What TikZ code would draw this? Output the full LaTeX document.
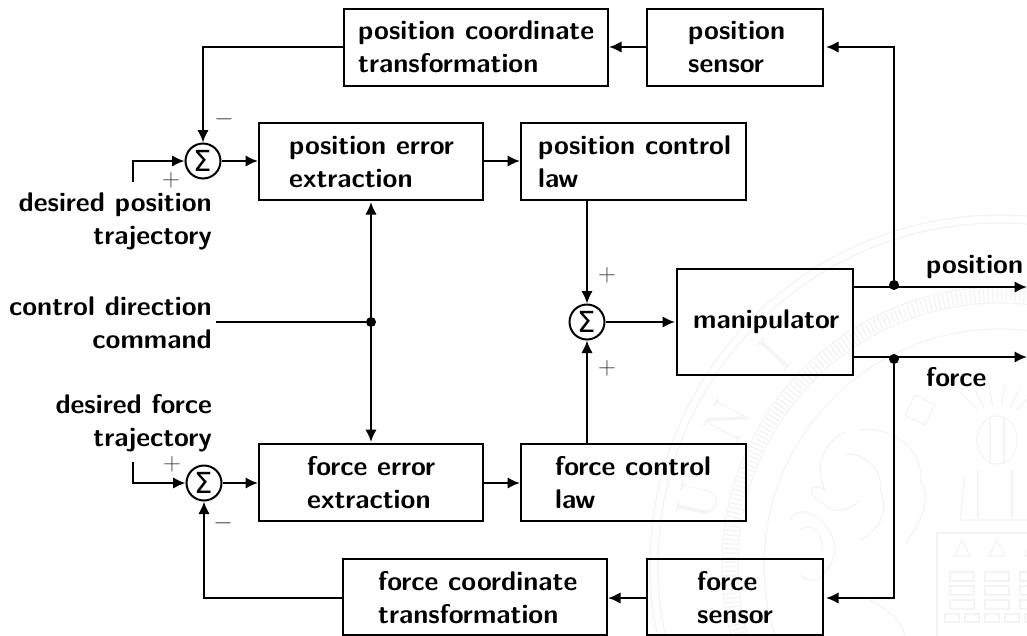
\documentclass[tikz,border=0pt]{standalone}
\usepackage{fontspec}
\usetikzlibrary{arrows.meta,calc}
\newfontfamily\sigmafont{DejaVu Sans}
\definecolor{wm}{gray}{0.955}
\tikzset{
  x=1pt,y=-1pt,
  blockbox/.style={draw,line width=2.2pt},
  wire/.style={line width=2.2pt},
  arr/.style={wire,-{Latex[length=12.5pt,width=11.5pt]}},
  sumnode/.style={circle,draw,line width=2pt,minimum size=35pt,inner sep=0pt,font=\fontsize{29}{32}\sigmafont},
  dot/.style={circle,fill=black,inner sep=0pt,minimum size=10pt},
  lab/.style={font=\fontsize{27}{33}\selectfont\sffamily\bfseries,align=left,inner sep=0pt,anchor=west},
  rlab/.style={font=\fontsize{27}{33}\selectfont\sffamily\bfseries,align=right,inner sep=0pt,anchor=east},
  sgn/.style={font=\fontsize{29}{32}\selectfont,inner sep=0pt,text=black!75},
  seal/.style={draw=wm,line width=1.2pt},
  sealletter/.style={font=\fontsize{56}{56}\selectfont\rmfamily,text=wm,inner sep=0pt}
}
\begin{document}
\begin{tikzpicture}
\useasboundingbox (0,0) rectangle (1027,635);
% faint seal
\begin{scope}
\clip (0,0) rectangle (1027,635);
\foreach \r in {350,342,278,262,236} \draw[seal] (1000,565) circle[radius=\r];
\draw[draw=wm,line width=13pt,dash pattern=on 1.5pt off 3pt] (1000,565) circle[radius=270];
\foreach \a/\l in {-78/U,-62/N,-47/I} {
  \node[sealletter,rotate=-\a] at ({1000+308*sin(\a)},{565-308*cos(\a)}) {\l};
}
% arms: castle
\draw[seal] (937,533) rectangle (1040,640);
\foreach \x in {950,985,1020} {
  \foreach \y in {572,586,600} \draw[seal] (\x,\y) rectangle +(24,9);
  \draw[seal] ({\x+12},540) -- ({\x+20},556) -- ({\x+4},556) -- cycle;
}
\foreach \x in {945,965,985,1005,1025} \draw[seal] (\x,614) rectangle +(14,8);
% helmet
\draw[seal] (997,440) ellipse [x radius=20,y radius=24];
\draw[seal] (990,418) -- (990,464) (1004,418) -- (1004,464);
\foreach \a in {-50,-30,-10,10,30,50} \draw[seal] ({997+26*sin(\a)},{416-10*cos(\a)}) -- ({997+48*sin(\a)},{412-30*cos(\a)});
\draw[seal] (965,475) -- (960,520) -- (1030,520);
\draw[seal] (978,470) -- (978,518) (1012,470) -- (1012,518);
\draw[seal] (915,395) -- (935,405) -- (925,425) -- (905,415) -- cycle;
% lion
\draw[seal] (845,432) .. controls (820,445) and (815,470) .. (825,490) .. controls (810,480) and (805,495) .. (825,505) .. controls (835,515) and (850,510) .. (860,500);
\draw[seal] (860,430) .. controls (890,425) and (925,450) .. (920,480) .. controls (935,500) and (915,530) .. (905,545);
\draw[seal] (845,455) .. controls (860,450) and (885,470) .. (880,490) .. controls (890,510) and (880,530) .. (860,540);
\draw[seal] (790,520) .. controls (800,500) and (830,520) .. (835,545) .. controls (835,570) and (815,590) .. (800,575);
\draw[seal] (800,530) .. controls (810,520) and (825,535) .. (822,550);
\draw[seal] (870,600) .. controls (890,610) and (905,625) .. (905,640);
\end{scope}
% blocks
\draw[blockbox] (344,9) rectangle (608,86);
\draw[blockbox] (647,9) rectangle (823,86);
\draw[blockbox] (259,123) rectangle (483,200);
\draw[blockbox] (521,123) rectangle (746,200);
\draw[blockbox] (677,269) rectangle (853,375);
\draw[blockbox] (259,444) rectangle (483,521);
\draw[blockbox] (521,444) rectangle (746,521);
\draw[blockbox] (343,559) rectangle (607,635);
\draw[blockbox] (647,559) rectangle (823,635);
% anchor coordinates on block sides
\coordinate (pct) at (344,47);
\coordinate (pctr) at (609,47);
\coordinate (psl) at (647,47);
\coordinate (psr) at (826,47);
\coordinate (pel) at (258,161);
\coordinate (per) at (483,161);
\coordinate (pcl) at (520,161);
\coordinate (peb) at (371,202);
\coordinate (pcbot) at (587,200);
\coordinate (mal) at (675,322);
\coordinate (mar) at (853,287);
\coordinate (mbr) at (853,357);
\coordinate (fel) at (258,483);
\coordinate (fer) at (483,483);
\coordinate (fcl) at (520,483);
\coordinate (fet) at (371,442);
\coordinate (fct) at (587,444);
\coordinate (fctl) at (343,598);
\coordinate (fctr) at (608,598);
\coordinate (fsl) at (647,598);
\coordinate (fsr) at (826,598);
% block texts
\node[lab] (t1) at (358,47) {position coordinate\\transformation};
\node[lab] (t2) at (688,47) {position\\sensor};
\node[lab] (t3) at (289,162) {position error\\extraction};
\node[lab] (t4) at (538,162) {position control\\law};
\node[lab] (t5) at (693,322) {manipulator};
\node[lab] (t6) at (307,483) {force error\\extraction};
\node[lab] (t7) at (555,483) {force control\\law};
\node[lab] (t8) at (378,598) {force coordinate\\transformation};
\node[lab] (t9) at (697,598) {force\\sensor};
% sums
\node[sumnode] (s1) at (203,161) {Σ};
\node[sumnode] (s2) at (204,483) {Σ};
\node[sumnode] (s3) at (587,322) {Σ};
% junctions
\node[dot] (j1) at (371,322) {};
\node[dot] (j2) at (894,285) {};
\node[dot] (j3) at (894,359) {};
% free ends
\coordinate (pin) at (133,182);
\coordinate (fin) at (133,462);
\coordinate (cin) at (216,322);
\coordinate (oa) at (1027,287);
\coordinate (ob) at (1027,357);
% wires
\draw[arr] (pct) -| (s1.north);
\draw[arr] (pin) |- (s1.west);
\draw[arr] (s1.east) -- (pel);
\draw[arr] (per) -- (pcl);
\draw[arr] (pcbot) -- (s3.north);
\draw[arr] (fct) -- (s3.south);
\draw[arr] (s3.east) -- (mal);
\draw[wire] (cin) -- (j1);
\draw[arr] (j1) -- (peb);
\draw[arr] (j1) -- (fet);
\draw[arr] (fin) |- (s2.west);
\draw[arr] (s2.east) -- (fel);
\draw[arr] (fer) -- (fcl);
\draw[arr] (fctl) -| (s2.south);
\draw[arr] (mar) -- (oa);
\draw[arr] (mbr) -- (ob);
\draw[arr] (j2) |- (psr);
\draw[arr] (j3) |- (fsr);
\draw[arr] (psl) -- (pctr);
\draw[arr] (fsl) -- (fctr);
% signs
\node[sgn] (m1) at (224,119) {$-$};
\node[sgn] (p1) at (171,180) {$+$};
\node[sgn] (p2) at (172,464) {$+$};
\node[sgn] (m2) at (223,523) {$-$};
\node[sgn] (p3) at (607,275) {$+$};
\node[sgn] (p4) at (607,368) {$+$};
% outer labels
\node[rlab] (l1) at (212,221) {desired position\\trajectory};
\node[rlab] (l2) at (212,323) {control direction\\command};
\node[rlab] (l3) at (212,423) {desired force\\trajectory};
\node[lab] (l4) at (926,267) {position};
\node[lab] (l5) at (926,377) {force};
\end{tikzpicture}
\end{document}
